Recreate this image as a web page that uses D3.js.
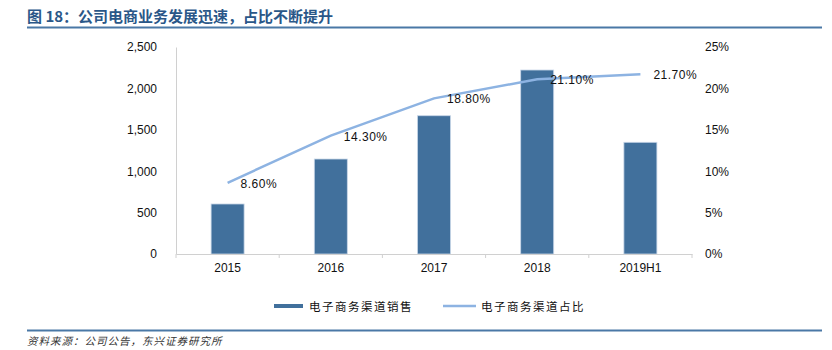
<!DOCTYPE html>
<meta charset="utf-8">
<style>
body { margin: 0; background: #fff; }
text { font-family: "Liberation Sans", Arial, sans-serif; fill: #111; }
.cjk { font-family: "Noto Sans CJK SC", sans-serif; }
</style>
<svg width="832" height="350"></svg>
<script src="https://d3js.org/d3.v7.min.js"></script>
<script>

// data
var years = ["2015", "2016", "2017", "2018", "2019H1"];
var sales = [604, 1147, 1670, 2222, 1349];        // 电子商务渠道销售
var share = [8.6, 14.3, 18.8, 21.1, 21.7];        // 电子商务渠道占比, %
var shareLabels = ["8.60%", "14.30%", "18.80%", "21.10%", "21.70%"];
var leftTicks = [0, 500, 1000, 1500, 2000, 2500];
var rightTicks = [0, 5, 10, 15, 20, 25];

var barColor = "#41709c", lineColor = "#8db3e2";

var svg = d3.select("svg");
var pLeft = 176, pRight = 692, pTop = 47, pBottom = 254;

// title + rule
svg.append("text").attr("class", "cjk")
  .attr("x", 27).attr("y", 22)
  .style("font-size", "15px").style("font-weight", "bold").style("fill", "#2a5788")
  .text("图 18：公司电商业务发展迅速，占比不断提升");
svg.append("line").attr("x1", 27).attr("x2", 822).attr("y1", 27.5).attr("y2", 27.5)
  .attr("stroke", "#4a78a6").attr("stroke-width", 2);

var xb = d3.scaleBand().domain(years).range([pLeft, pRight]);
var y = d3.scaleLinear().domain([0, 2500]).range([pBottom, pTop]);
var y2 = d3.scaleLinear().domain([0, 25]).range([pBottom, pTop]);

// left axis (line, no tick marks)
var ya = svg.append("g").attr("transform", "translate(" + pLeft + ",0)")
  .call(d3.axisLeft(y).tickValues(leftTicks).tickSize(0).tickPadding(19).tickFormat(d3.format(",")));
ya.select(".domain").attr("stroke", "#d0d0d0");
ya.selectAll("text").style("font-size", "12px").style("fill", "#111");

// right axis (labels only)
var ya2 = svg.append("g").attr("transform", "translate(" + (pRight + 10) + ",0)")
  .call(d3.axisRight(y2).tickValues(rightTicks).tickSize(0).tickFormat(function(d) { return d + "%"; }));
ya2.select(".domain").remove();
ya2.selectAll("text").style("font-size", "12px").style("fill", "#111");

// bars
svg.append("g").selectAll("rect").data(sales).join("rect")
  .attr("x", function(d, i) { return xb(years[i]) + xb.bandwidth() / 2 - 16.5; })
  .attr("width", 33)
  .attr("y", function(d) { return y(d); })
  .attr("height", function(d) { return pBottom - y(d); })
  .attr("fill", barColor)
  .attr("stroke", "#c8d6e8").attr("stroke-width", 0.8);

// x axis
var xa = svg.append("g").attr("transform", "translate(0," + pBottom + ")")
  .call(d3.axisBottom(xb).tickSize(0).tickPadding(9));
xa.select(".domain").attr("stroke", "#d0d0d0");
xa.selectAll("text").style("font-size", "12px").style("fill", "#111");
svg.append("g").selectAll("line").data(d3.range(years.length + 1)).join("line")
  .attr("x1", function(i) { return pLeft + i * xb.step(); })
  .attr("x2", function(i) { return pLeft + i * xb.step(); })
  .attr("y1", pBottom).attr("y2", pBottom + 4)
  .attr("stroke", "#d0d0d0");

// line
var cx = function(d, i) { return xb(years[i]) + xb.bandwidth() / 2; };
svg.append("path").datum(share)
  .attr("fill", "none").attr("stroke", lineColor).attr("stroke-width", 2.5)
  .attr("d", d3.line().x(cx).y(function(d) { return y2(d); }));

svg.append("g").selectAll("text").data(share).join("text")
  .attr("x", function(d, i) { return cx(d, i) + 13; })
  .attr("y", function(d) { return y2(d) + 5; })
  .style("font-size", "12px").style("letter-spacing", "0.5px")
  .text(function(d, i) { return shareLabels[i]; });

// legend
var lg = svg.append("g");
lg.append("rect").attr("x", 274).attr("y", 304).attr("width", 29).attr("height", 4).attr("fill", barColor);
lg.append("text").attr("class", "cjk").attr("x", 309).attr("y", 310.5)
  .style("font-size", "11.5px").style("letter-spacing", "1.5px").text("电子商务渠道销售");
lg.append("line").attr("x1", 443).attr("x2", 476).attr("y1", 306).attr("y2", 306)
  .attr("stroke", lineColor).attr("stroke-width", 2.5);
lg.append("text").attr("class", "cjk").attr("x", 481).attr("y", 310.5)
  .style("font-size", "11.5px").style("letter-spacing", "1.5px").text("电子商务渠道占比");

// source
svg.append("line").attr("x1", 27).attr("x2", 822).attr("y1", 330.5).attr("y2", 330.5)
  .attr("stroke", "#4a78a6").attr("stroke-width", 2);
svg.append("text").attr("class", "cjk").attr("x", 27).attr("y", 345)
  .style("font-size", "10.5px").style("font-style", "italic").style("fill", "#333").style("letter-spacing", "1px")
  .text("资料来源：公司公告，东兴证券研究所");

</script>
